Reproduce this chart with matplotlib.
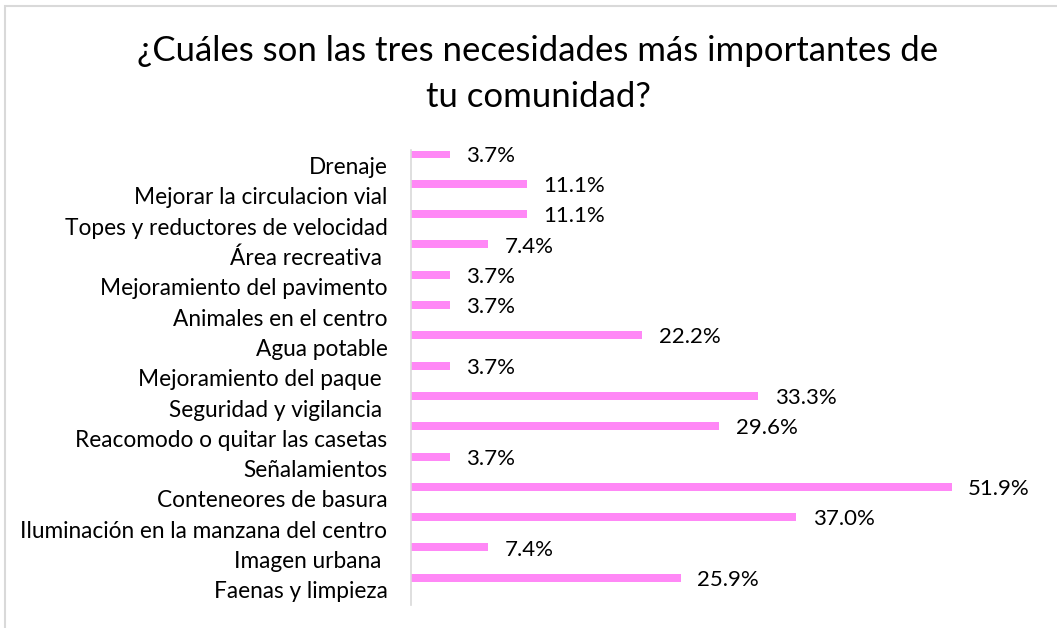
import matplotlib
matplotlib.use("Agg")
import matplotlib.pyplot as plt
from matplotlib.patches import Rectangle

plt.rcParams['font.family'] = ['Lato', 'DejaVu Sans']

categories = [
    "Drenaje",
    "Mejorar la circulacion vial",
    "Topes y reductores de velocidad",
    "Área recreativa ",
    "Mejoramiento del pavimento",
    "Animales en el centro",
    "Agua potable",
    "Mejoramiento del paque ",
    "Seguridad y vigilancia ",
    "Reacomodo o quitar las casetas",
    "Señalamientos",
    "Conteneores de basura",
    "Iluminación en la manzana del centro",
    "Imagen urbana ",
    "Faenas y limpieza",
]
values = [3.7, 11.1, 11.1, 7.4, 3.7, 3.7, 22.2, 3.7, 33.3, 29.6, 3.7, 51.9, 37.0, 7.4, 25.9]
title = "¿Cuáles son las tres necesidades más importantes de\ntu comunidad?"

W, H = 1057, 628
fig = plt.figure(figsize=(W / 100, H / 100), dpi=100)

# light border of the chart area
fig.patches.append(Rectangle((5 / W, -0.05), 1.1, 1 - 6 / H + 0.05, transform=fig.transFigure,
                             fill=False, edgecolor='#D9D9D9', linewidth=1.5))

top_px, bot_px = 150.5, 605
ax = fig.add_axes([411 / W, 1 - bot_px / H, 625 / W, (bot_px - top_px) / H])
n = len(categories)
ypos = list(range(n))
bar_y = [y - 0.4 for y in ypos]
ax.barh(bar_y, values, height=0.265, color='#FF88F6', edgecolor='none')
for y, v in zip(bar_y, values):
    ax.annotate(f"{v:.1f}%", (v, y), xytext=(12, -1.5), textcoords='offset points',
                ha='left', va='center', fontsize=16, color='#000000')

ax.set_xlim(0, 60)
ax.set_ylim(n - 0.5, -0.5)
ax.set_yticks(ypos)
ax.set_yticklabels(categories, fontsize=16.3)
ax.tick_params(axis='y', length=0, pad=17)
ax.set_xticks([])
for s in ['top', 'right', 'bottom']:
    ax.spines[s].set_visible(False)
ax.spines['left'].set_color('#D9D9D9')
ax.spines['left'].set_linewidth(1.2)

fig.text(538 / W, 1 - 74 / H, title, ha='center', va='center', fontsize=25,
         linespacing=1.55, color='#000000')

fig.savefig("out.png", dpi=100)
